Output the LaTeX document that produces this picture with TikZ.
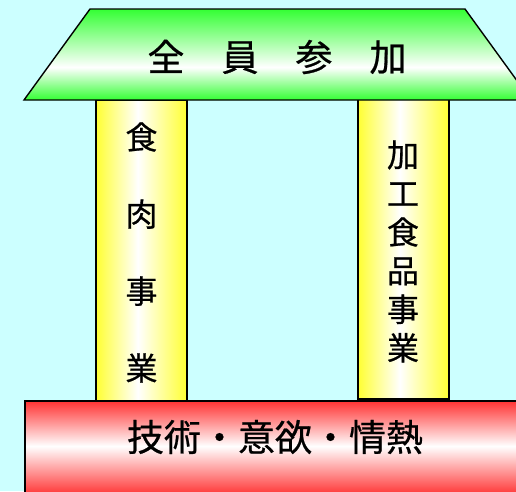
\documentclass[tikz,border=0pt]{standalone}
\usepackage{fontspec}
\newfontfamily\cjk[FakeBold=0.6]{Noto Sans CJK JP}
\definecolor{bgcyan}{RGB}{204,255,255}
\definecolor{roofgreen}{RGB}{51,255,51}
\definecolor{pillaryellow}{RGB}{255,255,51}
\definecolor{basered}{RGB}{255,51,51}
\pgfdeclareverticalshading{roofshade}{100bp}{color(0bp)=(roofgreen); color(25bp)=(roofgreen); color(43bp)=(white); color(75bp)=(roofgreen); color(100bp)=(roofgreen)}
\pgfdeclareverticalshading{baseshade}{100bp}{color(0bp)=(basered); color(25bp)=(basered); color(51bp)=(white); color(75bp)=(basered); color(100bp)=(basered)}
\pgfdeclarehorizontalshading{pillarshade}{100bp}{color(0bp)=(pillaryellow); color(25bp)=(pillaryellow); color(48bp)=(white); color(75bp)=(pillaryellow); color(100bp)=(pillaryellow)}
\tikzset{
  outline/.style={draw=black, line width=1.4pt},
  roof/.style={outline, shading=roofshade},
  pillar/.style={outline, shading=pillarshade},
  basebar/.style={outline, shading=baseshade},
  lbl/.style={text=black, inner sep=0pt, align=center}
}
\begin{document}
\begin{tikzpicture}[x=1pt, y=-1pt]
  \useasboundingbox (0,0) rectangle (516,491);
  \clip (0,0) rectangle (516,491);
  \fill[bgcyan] (0,0) rectangle (516,491);
  % pillars
  \path[pillar] (96,100) rectangle (187,401);
  \path[pillar] (358,99) rectangle (449,399);
  % roof
  \path[roof] (90,9) -- (465,9) -- (531,100) -- (24,100) -- cycle;
  % base
  \path[basebar] (25,401) rectangle (540,495);
  % labels
  \node[lbl, font=\cjk\fontsize{37}{44}\selectfont] (roofText) at (277,57) {全　員　参　加};
  \node[lbl, font=\cjk\fontsize{32}{77}\selectfont] (leftText) at (141.5,252.5) {食\\肉\\事\\業};
  \node[lbl, font=\cjk\fontsize{32}{38.6}\selectfont] (rightText) at (403,251.5) {加\\工\\食\\品\\事\\業};
  \node[lbl, font=\cjk\fontsize{37}{44}\selectfont] (baseText) at (275,437) {技術・意欲・情熱};
\end{tikzpicture}
\end{document}
